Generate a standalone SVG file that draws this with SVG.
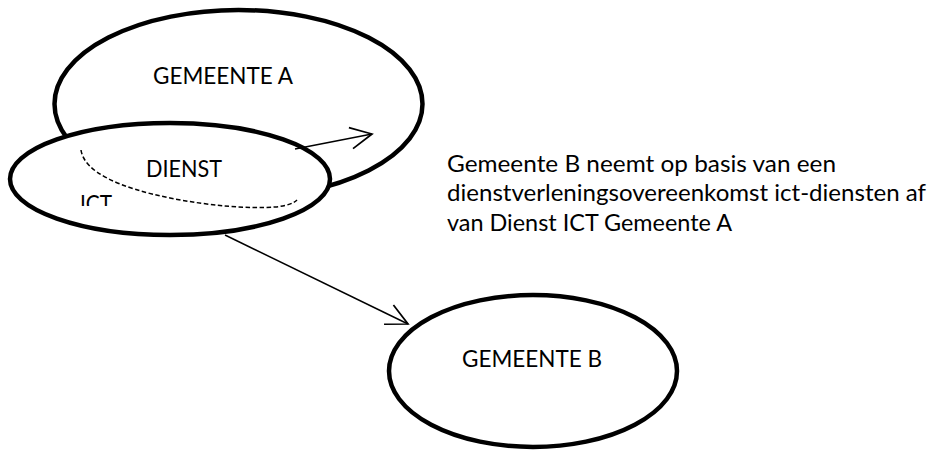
<svg xmlns="http://www.w3.org/2000/svg" width="941" height="450" viewBox="0 0 941 450">
  <style>
    .node { fill: #ffffff; stroke: #000000; stroke-width: 4.5; }
    .lbl { font-family: Lato, "Open Sans", "Liberation Sans", sans-serif; font-size: 23.5px; fill: #000000; }
    .conn { fill: none; stroke: #000000; stroke-width: 1.5; }
    .dash { fill: none; stroke: #000000; stroke-width: 1.5; stroke-dasharray: 4.5 2.5; }
  </style>
  <defs>
    <marker id="open" markerUnits="userSpaceOnUse" markerWidth="30" markerHeight="30" viewBox="-24 -12 28 24" refX="0" refY="0" orient="auto">
      <path d="M -20,-10 L 0,0 L -20,10" fill="none" stroke="#000000" stroke-width="1.6"/>
    </marker>
    <clipPath id="ictclip">
      <rect x="0" y="0" width="941" height="206"/>
    </clipPath>
  </defs>
  <rect x="0" y="0" width="941" height="450" fill="#ffffff"/>

  <g id="gemeente-a">
    <ellipse class="node" cx="238.5" cy="104" rx="184" ry="94"/>
    <text class="lbl" x="153" y="84" textLength="140" lengthAdjust="spacingAndGlyphs">GEMEENTE A</text>
  </g>

  <g id="dienst-ict">
    <ellipse class="node" cx="170" cy="179" rx="160" ry="56"/>
    <text class="lbl" x="146" y="177" textLength="76" lengthAdjust="spacingAndGlyphs">DIENST</text>
    <text class="lbl" x="80" y="212" textLength="32" lengthAdjust="spacingAndGlyphs" clip-path="url(#ictclip)">ICT</text>
    <path class="dash" d="M81,150 C84,172 120,188 170,198 C210,206 250,209 275,207 C287,206 294,203 297,200"/>
  </g>

  <g id="gemeente-b">
    <ellipse class="node" cx="533" cy="371" rx="144" ry="76"/>
    <text class="lbl" x="462" y="367" textLength="140" lengthAdjust="spacingAndGlyphs">GEMEENTE B</text>
  </g>

  <g id="description">
    <text class="lbl" x="447" y="172" textLength="389" lengthAdjust="spacingAndGlyphs">Gemeente B neemt op basis van een</text>
    <text class="lbl" x="447" y="201" textLength="479" lengthAdjust="spacingAndGlyphs">dienstverleningsovereenkomst ict-diensten af</text>
    <text class="lbl" x="447" y="231" textLength="285" lengthAdjust="spacingAndGlyphs">van Dienst ICT Gemeente A</text>
  </g>

  <g id="connectors">
    <line class="conn" x1="295" y1="149" x2="372" y2="134" marker-end="url(#open)"/>
    <line class="conn" x1="225" y1="235" x2="408" y2="324" marker-end="url(#open)"/>
  </g>
</svg>
